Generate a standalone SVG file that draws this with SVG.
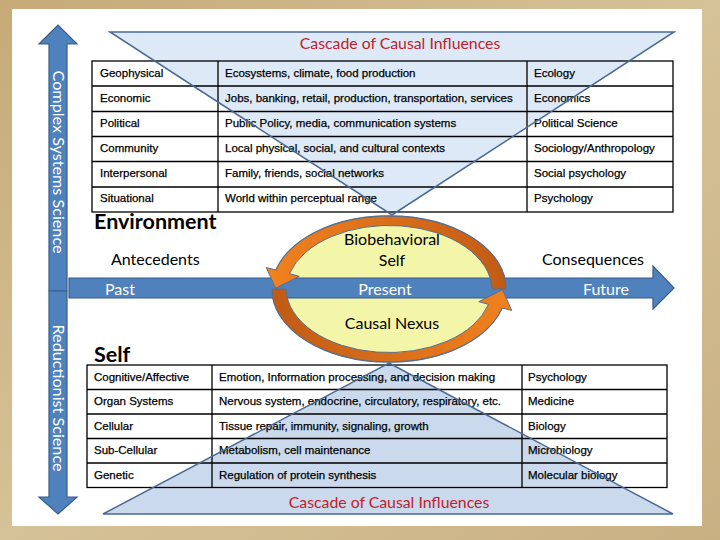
<svg xmlns="http://www.w3.org/2000/svg" width="720" height="540" viewBox="0 0 720 540">
<defs>
<linearGradient id="frame" x1="0" y1="0" x2="1" y2="1">
<stop offset="0" stop-color="#c6aa78"/>
<stop offset="0.5" stop-color="#d6c298"/>
<stop offset="1" stop-color="#c9b083"/>
</linearGradient>
<linearGradient id="orUp" gradientUnits="userSpaceOnUse" x1="512" y1="0" x2="268" y2="0">
<stop offset="0" stop-color="#c05a14"/>
<stop offset="1" stop-color="#f2821f"/>
</linearGradient>
<linearGradient id="orDn" gradientUnits="userSpaceOnUse" x1="270" y1="0" x2="512" y2="0">
<stop offset="0" stop-color="#c05a14"/>
<stop offset="1" stop-color="#f2821f"/>
</linearGradient>
<style>
.cell{font-family:"Liberation Sans",Arial,sans-serif;font-size:11.5px;fill:#000;stroke:#000;stroke-width:0.25}
.cal{font-family:Lato,"Open Sans",sans-serif;font-size:16px}
.red{font-family:Lato,"Open Sans",sans-serif;font-size:15.8px;fill:#c0202a}
.head{font-family:Lato,"Open Sans",sans-serif;font-size:21.5px;font-weight:bold;fill:#000}
.wt{fill:#fff}
.grid{stroke:#000;stroke-width:1.3;fill:none}
.blue{fill:#4f81bd;stroke:#385d8a;stroke-width:1.2}
.tri{stroke:#4a6a94;stroke-width:1.5}
.band{stroke:#5a6f8a;stroke-width:1}
</style>
</defs>
<rect x="0" y="0" width="720" height="540" fill="url(#frame)"/>
<rect x="12" y="9" width="690" height="517" fill="#ffffff"/>

<g id="top-triangle">
<polygon points="110,32 674,32 392,215" fill="#dde9f7"/>
<text class="red" x="400" y="49" text-anchor="middle">Cascade of Causal Influences</text>
</g>
<g id="bottom-triangle">
<polygon points="389,363 673,514 103,514" fill="#cad9ec"/>
<text class="red" x="389" y="508" text-anchor="middle">Cascade of Causal Influences</text>
</g>

<g id="environment-table">
<rect class="grid" x="92" y="61" width="581" height="151"/>
<path class="grid" d="M218,61V212M527,61V212M92,86H673M92,111.5H673M92,136.5H673M92,161.5H673M92,187H673"/>
<text class="cell" x="100" y="76.5">Geophysical</text>
<text class="cell" x="225" y="76.5">Ecosystems, climate, food production</text>
<text class="cell" x="534" y="76.5">Ecology</text>
<text class="cell" x="100" y="101.5">Economic</text>
<text class="cell" x="225" y="101.5">Jobs, banking, retail, production, transportation, services</text>
<text class="cell" x="534" y="101.5">Economics</text>
<text class="cell" x="100" y="126.5">Political</text>
<text class="cell" x="225" y="126.5">Public Policy, media, communication systems</text>
<text class="cell" x="534" y="126.5">Political Science</text>
<text class="cell" x="100" y="151.5">Community</text>
<text class="cell" x="225" y="151.5">Local physical, social, and cultural contexts</text>
<text class="cell" x="534" y="151.5">Sociology/Anthropology</text>
<text class="cell" x="100" y="177">Interpersonal</text>
<text class="cell" x="225" y="177">Family, friends, social networks</text>
<text class="cell" x="534" y="177">Social psychology</text>
<text class="cell" x="100" y="202">Situational</text>
<text class="cell" x="225" y="202">World within perceptual range</text>
<text class="cell" x="534" y="202">Psychology</text>
</g>

<g id="self-table">
<rect class="grid" x="87" y="365" width="580" height="122.5"/>
<path class="grid" d="M212,365V487.5M522,365V487.5M87,389.5H667M87,414H667M87,438.5H667M87,463H667"/>
<text class="cell" x="94" y="380.5">Cognitive/Affective</text>
<text class="cell" x="219" y="380.5">Emotion, Information processing, and decision making</text>
<text class="cell" x="528" y="380.5">Psychology</text>
<text class="cell" x="94" y="405">Organ Systems</text>
<text class="cell" x="219" y="405">Nervous system, endocrine, circulatory, respiratory, etc.</text>
<text class="cell" x="528" y="405">Medicine</text>
<text class="cell" x="94" y="429.5">Cellular</text>
<text class="cell" x="219" y="429.5">Tissue repair, immunity, signaling, growth</text>
<text class="cell" x="528" y="429.5">Biology</text>
<text class="cell" x="94" y="454">Sub-Cellular</text>
<text class="cell" x="219" y="454">Metabolism, cell maintenance</text>
<text class="cell" x="528" y="454">Microbiology</text>
<text class="cell" x="94" y="478.5">Genetic</text>
<text class="cell" x="219" y="478.5">Regulation of protein synthesis</text>
<text class="cell" x="528" y="478.5">Molecular biology</text>
</g>

<g id="triangle-outlines" fill="none">
<polygon class="tri" points="110,32 674,32 392,215"/>
<polygon class="tri" points="389,363 673,514 103,514"/>
</g>

<g id="labels">
<text class="head" x="94" y="229">Environment</text>
<text class="head" x="94" y="362">Self</text>
<text class="cal" x="111" y="265">Antecedents</text>
<text class="cal" x="542" y="265">Consequences</text>
</g>

<g id="nexus">
<ellipse cx="389" cy="289" rx="117" ry="73" fill="#f3f5a9" stroke="#4f6f9a" stroke-width="1.5"/>
<text class="cal" x="392" y="245" text-anchor="middle">Biobehavioral</text>
<text class="cal" x="392" y="266" text-anchor="middle">Self</text>
<text class="cal" x="392" y="329" text-anchor="middle">Causal Nexus</text>
</g>

<g id="connectors">
<polygon id="time-arrow" class="blue" points="69,278 653,278 653,266 674,288 653,309 653,298 69,298"/>
<text class="cal wt" x="105" y="295">Past</text>
<text class="cal wt" x="385" y="295" text-anchor="middle">Present</text>
<text class="cal wt" x="583" y="295">Future</text>
<polygon id="complex-arrow" class="blue" points="49,291 49,44 39,44 58,25 77,44 67,44 67,291"/>
<polygon id="reduction-arrow" class="blue" points="49,291 49,497 39,497 58,514 77,497 67,497 67,291"/>
<text class="cal wt" transform="translate(53,162) rotate(90)" text-anchor="middle" textLength="183" lengthAdjust="spacingAndGlyphs">Complex Systems  Science</text>
<text class="cal wt" transform="translate(53,398) rotate(90)" text-anchor="middle" textLength="147" lengthAdjust="spacingAndGlyphs">Reductionist  Science</text>
<path id="loop-upper" class="band" fill="url(#orUp)" d="M506,289 A117,73 0 0,0 276,270.1 L266.3,267.5 L275.5,288.3 L299.2,276.3 L289.5,273.7 A103,65 0 0,1 492,289 Z"/>
<path id="loop-lower" class="band" fill="url(#orDn)" d="M272,289 A117,73 0 0,0 502,307.9 L511.7,310.5 L502.5,289.7 L478.8,301.7 L488.5,304.3 A103,65 0 0,1 286,289 Z"/>
</g>
</svg>
